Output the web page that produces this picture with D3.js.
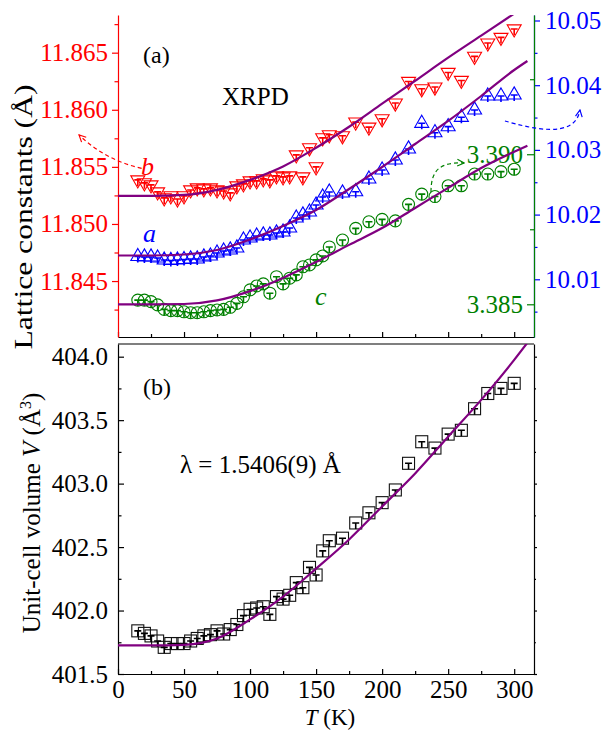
<!DOCTYPE html>
<html>
<head>
<meta charset="utf-8">
<script src="https://cdn.jsdelivr.net/npm/d3@7"></script>
<style>
body { margin:0; background:#fff; }
svg text { font-family: "Liberation Serif", "Times New Roman", serif; }
</style>
</head>
<body>
<div id="chart"></div>
<script>
// temperatures of the measured points (K)
var temps = [15,20,25,30,35,40,45,50,55,60,65,70,75,80,85,90,95,100,105,110,115,120,125,130,135,140,145,150,155,160,
             170,180,190,200,210,220,230,240,250,260,270,280,290,300];
// lattice constant b (red, left axis)
var bVals = [11.85386,11.85360,11.85342,11.85281,11.85228,11.85246,11.85219,11.85246,11.85298,11.85316,11.85307,11.85316,
             11.85298,11.85289,11.85272,11.85333,11.85351,11.85377,11.85377,11.85395,11.85386,11.85421,11.85412,11.85421,
             11.85605,11.85412,11.85667,11.85500,11.85754,11.85781,11.85772,11.85892,11.85848,11.85921,11.86059,11.86248,
             11.86184,11.86199,11.86327,11.86257,11.86468,11.86585,11.86634,11.86708];
// lattice constant a (blue, right axis)
var aVals = [10.01352,10.01345,10.01345,10.01329,10.01298,10.01291,10.01298,10.01306,10.01314,10.01314,10.01345,10.01360,
             10.01406,10.01437,10.01453,10.01484,10.01607,10.01638,10.01669,10.01685,10.01685,10.01716,10.01731,10.01793,
             10.01947,10.01994,10.02040,10.02148,10.02272,10.02349,10.02334,10.02354,10.02550,10.02689,10.02844,10.03014,
             10.03411,10.03266,10.03359,10.03504,10.03617,10.03833,10.03833,10.03849];
// lattice constant c (green, inner right axis)
var cVals = [3.38514,3.38514,3.38509,3.38498,3.38483,3.38479,3.38479,3.38475,3.38472,3.38472,3.38475,3.38479,
             3.38481,3.38483,3.38490,3.38503,3.38525,3.38548,3.38561,3.38568,3.38537,3.38592,3.38568,3.38587,
             3.38598,3.38625,3.38631,3.38648,3.38661,3.38691,3.38714,3.38753,3.38775,3.38783,3.38778,3.38833,
             3.38867,3.38859,3.38895,3.38895,3.38934,3.38934,3.38942,3.38950];
// unit-cell volume (A^3)
var volVals = [401.84,401.82,401.80,401.76,401.71,401.74,401.74,401.74,401.76,401.78,401.80,401.81,401.84,401.815,401.85,
               401.89,401.96,402.01,402.02,402.03,401.97,402.11,402.09,402.12,402.22,402.18,402.34,402.28,402.47,402.55,
               402.57,402.69,402.77,402.85,402.95,403.16,403.33,403.28,403.39,403.42,403.59,403.71,403.75,403.79];

// fitted curves
var fitT = [0,25,50,75,100,125,150,175,200,225,250,275,300,310];
var bFit = [11.85246,11.85246,11.85254,11.85298,11.85386,11.85504,11.85667,11.85851,11.86053,11.86254,11.86456,11.86649,11.86842,11.8692];
var aFit = [10.01368,10.01368,10.01383,10.01453,10.01615,10.01824,10.02071,10.02396,10.02736,10.03091,10.03447,10.03833,10.04235,10.04374];
var cFit = [3.38500,3.38500,3.38501,3.38513,3.38544,3.38588,3.38641,3.38698,3.38754,3.38821,3.38888,3.38954,3.39008,3.39028];
var volFit = [401.725,401.725,401.73,401.78,401.93,402.11,402.33,402.56,402.82,403.08,403.37,403.66,403.975,404.11];

// tick values
var tTicks = [0,50,100,150,200,250,300];
var tMinor = [25,75,125,175,225,275];
var bTicks = [11.845,11.850,11.855,11.860,11.865];
var bMinor = [11.8425,11.8475,11.8525,11.8575,11.8625,11.8675];
var aTicks = [10.01,10.02,10.03,10.04,10.05];
var aMinor = [10.005,10.015,10.025,10.035,10.045];
var cTicks = [3.385,3.390];
var cMinor = [3.3875,3.3925];
var volTicks = [401.5,402.0,402.5,403.0,403.5,404.0];
var volMinor = [401.75,402.25,402.75,403.25,403.75];

var RED = "#ff0000", BLUE = "#0000ff", GREEN = "#008000", PURPLE = "#800080";
var SERIF = "'Liberation Serif','Times New Roman',serif";
var W = 604, H = 730;

var svg = d3.select("#chart").append("svg")
    .attr("width", W).attr("height", H)
    .attr("font-family", SERIF)
    .style("display","block");

var x = d3.scaleLinear().domain([0,315]).range([118,534]);
var bY = d3.scaleLinear().domain([11.8401,11.8683]).range([337,15]);
var aY = d3.scaleLinear().domain([10.00108,10.05085]).range([337,15]);
var cY = d3.scaleLinear().domain([3.38391,3.39464]).range([337,15]);
var vY = d3.scaleLinear().domain([401.5,404.1]).range([674,344]);

var defs = svg.append("defs");
defs.append("clipPath").attr("id","clipTop").append("rect")
    .attr("x",118).attr("y",15).attr("width",416).attr("height",322);
defs.append("clipPath").attr("id","clipBot").append("rect")
    .attr("x",118).attr("y",344).attr("width",416).attr("height",330);

function arrowHead(id, col) {
    defs.append("marker").attr("id", id)
        .attr("viewBox","0 0 10 10").attr("refX",9).attr("refY",5)
        .attr("markerWidth",7).attr("markerHeight",7).attr("orient","auto")
        .append("path").attr("d","M1,1 L9,5 L1,9")
        .attr("fill","none").attr("stroke",col).attr("stroke-width",1.4);
}
arrowHead("arrRed", RED); arrowHead("arrBlue", BLUE); arrowHead("arrGreen", GREEN);

function styleAxis(g, col, size) {
    g.attr("font-family", SERIF).attr("font-size", size);
    g.select(".domain").attr("stroke", col).attr("stroke-width", 1.2);
    g.selectAll(".tick line").attr("stroke", col).attr("stroke-width", 1.2);
    g.selectAll(".tick text").attr("fill", col).attr("font-family", SERIF)
        .style("font-size", size + "px");
}

// ---------------- panel (a) ----------------
var panelA = svg.append("g");

// x axis of panel a (no labels, ticks inward)
var gxa = panelA.append("g").attr("transform","translate(0,337)")
    .call(d3.axisBottom(x).tickValues(tTicks).tickSize(-5).tickSizeOuter(0).tickFormat(""));
styleAxis(gxa, "#000", 24);
var gxa2 = panelA.append("g").attr("transform","translate(0,337)")
    .call(d3.axisBottom(x).tickValues(tMinor).tickSize(-3).tickSizeOuter(0).tickFormat(""));
styleAxis(gxa2, "#000", 24);
gxa2.select(".domain").remove();

// left red axis
var gb = panelA.append("g").attr("transform","translate(118,0)")
    .call(d3.axisLeft(bY).tickValues(bTicks).tickSize(6).tickSizeOuter(0).tickPadding(4).tickFormat(d3.format(".3f")));
styleAxis(gb, RED, 25);
var gb2 = panelA.append("g").attr("transform","translate(118,0)")
    .call(d3.axisLeft(bY).tickValues(bMinor).tickSize(3.5).tickSizeOuter(0).tickFormat(""));
styleAxis(gb2, RED, 25);
gb2.select(".domain").remove();

// right blue axis (ticks outward)
var ga = panelA.append("g").attr("transform","translate(534,0)")
    .call(d3.axisRight(aY).tickValues(aTicks).tickSize(6).tickSizeOuter(0).tickPadding(5).tickFormat(d3.format(".2f")));
styleAxis(ga, BLUE, 25);
var ga2 = panelA.append("g").attr("transform","translate(534,0)")
    .call(d3.axisRight(aY).tickValues(aMinor).tickSize(3.5).tickSizeOuter(0).tickFormat(""));
styleAxis(ga2, BLUE, 25);
ga2.select(".domain").remove();

// green axis on the same line (ticks inward, labels inside)
var gc = panelA.append("g").attr("transform","translate(534,0)")
    .call(d3.axisLeft(cY).tickValues(cTicks).tickSize(7).tickSizeOuter(0).tickPadding(4).tickFormat(d3.format(".3f")));
styleAxis(gc, GREEN, 25);
var gc2 = panelA.append("g").attr("transform","translate(534,0)")
    .call(d3.axisLeft(cY).tickValues(cMinor).tickSize(4).tickSizeOuter(0).tickFormat(""));
styleAxis(gc2, GREEN, 25);
gc2.select(".domain").remove();

function drawErr(g, pts, col) {
    g.selectAll(null).data(pts).enter().append("path")
        .attr("d", function(d){ return "M" + (d[0]-3.5) + "," + d[1] + "H" + (d[0]+3.5) + "M" + d[0] + "," + d[1] + "V" + (d[1]+6); })
        .attr("fill","none").attr("stroke",col).attr("stroke-width",1.6);
}

function triSeries(vals, yS, col, rot) {
    var pts = temps.map(function(t,i){ return [x(t), yS(vals[i])]; });
    var g = panelA.append("g");
    var sym = d3.symbol().type(d3.symbolTriangle).size(85);
    g.selectAll(null).data(pts).enter().append("path")
        .attr("d", sym)
        .attr("transform", function(d){ return "translate(" + d[0] + "," + d[1] + ") rotate(" + rot + ")"; })
        .attr("fill","none").attr("stroke",col).attr("stroke-width",1.1);
    drawErr(g, pts, col);
}
triSeries(bVals, bY, RED, 180);
triSeries(aVals, aY, BLUE, 0);

var cPts = temps.map(function(t,i){ return [x(t), cY(cVals[i])]; });
var gcir = panelA.append("g");
gcir.selectAll(null).data(cPts).enter().append("circle")
    .attr("cx", function(d){ return d[0]; }).attr("cy", function(d){ return d[1]; })
    .attr("r", 6).attr("fill","none").attr("stroke",GREEN).attr("stroke-width",1.1);
drawErr(gcir, cPts, GREEN);

// fits
function fitLine(vals, yS) {
    return d3.line().curve(d3.curveMonotoneX)
        .x(function(d){ return x(d); })
        .y(function(d,i){ return yS(vals[i]); })(fitT);
}
[[bFit,bY],[aFit,aY],[cFit,cY]].forEach(function(f){
    panelA.append("path").attr("d", fitLine(f[0], f[1]))
        .attr("clip-path","url(#clipTop)")
        .attr("fill","none").attr("stroke",PURPLE).attr("stroke-width",2.2);
});

// dashed arrows pointing to each series' axis
function arrow(pts, yS, col, id) {
    var p = pts.map(function(d){ return [x(d[0]), yS(d[1])]; });
    var d = "M" + p[0] + (p.length === 3 ? "Q" + p[1] + " " + p[2] : "C" + p[1] + " " + p[2] + " " + p[3]);
    panelA.append("path").attr("d", d).attr("fill","none").attr("stroke",col)
        .attr("stroke-width",1.2).attr("stroke-dasharray","4,3").attr("marker-end","url(#" + id + ")");
}
arrow([[17.9,11.85487],[-9.8,11.8556],[-29.5,11.85779]], bY, RED, "arrRed");
arrow([[293,10.03447],[312,10.03338],[346,10.03153],[349.8,10.03617]], aY, BLUE, "arrBlue");
arrow([[237,3.38874],[237,3.38948],[243.8,3.38974],[262,3.38971]], cY, GREEN, "arrGreen");

panelA.append("text").attr("x",143).attr("y",63).style("font-size","24px").text("(a)");
panelA.append("text").attr("x",222).attr("y",105).style("font-size","25px").text("XRPD");
panelA.append("text").attr("x",141).attr("y",175).style("font-size","26px").style("font-style","italic").attr("fill",RED).text("b");
panelA.append("text").attr("x",143).attr("y",242).style("font-size","26px").style("font-style","italic").attr("fill",BLUE).text("a");
panelA.append("text").attr("x",315).attr("y",305).style("font-size","26px").style("font-style","italic").attr("fill",GREEN).text("c");

panelA.append("text").attr("transform","translate(32,217) rotate(-90)")
    .attr("text-anchor","middle").style("font-size","25px")
    .attr("textLength",265).attr("lengthAdjust","spacingAndGlyphs")
    .text("Lattice constants (Å)");

// ---------------- panel (b) ----------------
var panelB = svg.append("g");

var gxb = panelB.append("g").attr("transform","translate(0,674)")
    .call(d3.axisBottom(x).tickValues(tTicks).tickSize(-5).tickSizeOuter(0).tickPadding(6.5).tickFormat(d3.format("d")));
styleAxis(gxb, "#000", 25);
var gxb2 = panelB.append("g").attr("transform","translate(0,674)")
    .call(d3.axisBottom(x).tickValues(tMinor).tickSize(-3).tickSizeOuter(0).tickFormat(""));
styleAxis(gxb2, "#000", 25);
gxb2.select(".domain").remove();

var gv = panelB.append("g").attr("transform","translate(118,0)")
    .call(d3.axisLeft(vY).tickValues(volTicks).tickSize(-6).tickSizeOuter(0).tickPadding(10).tickFormat(d3.format(".1f")));
styleAxis(gv, "#000", 25);
var gv2 = panelB.append("g").attr("transform","translate(118,0)")
    .call(d3.axisLeft(vY).tickValues(volMinor).tickSize(-3.5).tickSizeOuter(0).tickFormat(""));
styleAxis(gv2, "#000", 25);
gv2.select(".domain").remove();

var gvr = panelB.append("g").attr("transform","translate(534,0)")
    .call(d3.axisRight(vY).tickValues(volTicks).tickSize(3).tickSizeOuter(0).tickFormat(""));
styleAxis(gvr, "#000", 25);
var gvr2 = panelB.append("g").attr("transform","translate(534,0)")
    .call(d3.axisRight(vY).tickValues(volMinor).tickSize(2).tickSizeOuter(0).tickFormat(""));
styleAxis(gvr2, "#000", 25);
gvr2.select(".domain").remove();

panelB.append("line").attr("x1",x(0)).attr("x2",x(315)).attr("y1",vY(404.1)).attr("y2",vY(404.1))
    .attr("stroke","#000").attr("stroke-width",1.2);

var vPts = temps.map(function(t,i){ return [x(t), vY(volVals[i])]; });
var gsq = panelB.append("g");
gsq.selectAll(null).data(vPts).enter().append("rect")
    .attr("x", function(d){ return d[0]-6; }).attr("y", function(d){ return d[1]-6; })
    .attr("width",12).attr("height",12)
    .attr("fill","none").attr("stroke","#111").attr("stroke-width",1.1);
drawErr(gsq, vPts, "#000");

panelB.append("path").attr("d", fitLine(volFit, vY))
    .attr("clip-path","url(#clipBot)")
    .attr("fill","none").attr("stroke",PURPLE).attr("stroke-width",2.2);

panelB.append("text").attr("x",143).attr("y",395).style("font-size","24px").text("(b)");
panelB.append("text").attr("x",180).attr("y",473).style("font-size","25px").text("λ = 1.5406(9) Å");

var yl = panelB.append("text").attr("transform","translate(40,513) rotate(-90)")
    .attr("text-anchor","middle").style("font-size","25px");
yl.append("tspan").text("Unit-cell volume ");
yl.append("tspan").style("font-style","italic").text("V");
yl.append("tspan").text(" (Å");
yl.append("tspan").attr("dy",-9).style("font-size","16px").text("3");
yl.append("tspan").attr("dy",9).text(")");

var xl = panelB.append("text").attr("x",330).attr("y",724.5).attr("text-anchor","middle").style("font-size","23px");
xl.append("tspan").style("font-style","italic").text("T");
xl.append("tspan").text(" (K)");
</script>
</body>
</html>
